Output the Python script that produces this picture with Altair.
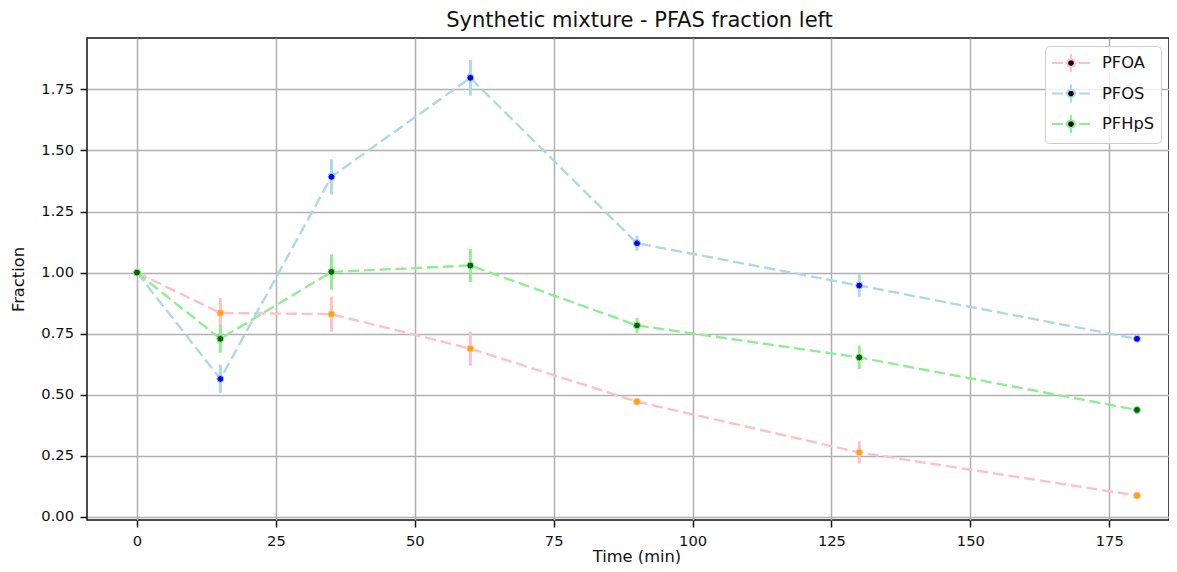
import math
import altair as alt
import pandas as pd

# ---- data ----
times = [0, 15, 35, 60, 90, 130, 180]
series_names = ["PFOA", "PFOS", "PFHpS"]
pfoa_vals = [1.000, 0.835, 0.830, 0.689, 0.472, 0.264, 0.088]
pfoa_errs = [0.000, 0.061, 0.072, 0.070, 0.015, 0.046, 0.011]
pfos_vals = [1.000, 0.565, 1.392, 1.797, 1.120, 0.947, 0.729]
pfos_errs = [0.000, 0.058, 0.072, 0.073, 0.030, 0.046, 0.012]
pfhps_vals = [1.000, 0.729, 1.003, 1.029, 0.784, 0.653, 0.438]
pfhps_errs = [0.000, 0.057, 0.072, 0.068, 0.031, 0.048, 0.012]
line_colors = ["#ffc0cb", "#add8e6", "#90ee90"]
marker_colors = ["#ffa500", "#0000ff", "#006400"]
x_ticks = [0, 25, 50, 75, 100, 125, 150, 175]
y_ticks = [0.0, 0.25, 0.5, 0.75, 1.0, 1.25, 1.5, 1.75]

rows = []
for name, vals, errs in zip(series_names,
                            [pfoa_vals, pfos_vals, pfhps_vals],
                            [pfoa_errs, pfos_errs, pfhps_errs]):
    for t, v, e in zip(times, vals, errs):
        rows.append({"series": name, "time": t, "value": v,
                     "lo": v - e, "hi": v + e})
df = pd.DataFrame(rows)

FONT = "DejaVu Sans"
TXT = "#111111"

x_scale = alt.Scale(domain=[-9, 185.76], nice=False, zero=False)
y_scale = alt.Scale(domain=[-0.0123, 1.960], nice=False, zero=False)
line_scale = alt.Scale(domain=series_names, range=line_colors)
marker_scale = alt.Scale(domain=series_names, range=marker_colors)

x_axis = alt.Axis(values=x_ticks, format="d", title="Time (min)", grid=True,
                  labelFlush=False, tickSize=7, labelPadding=18.5,
                  labelBaseline="alphabetic", titleX=549.5, titleY=41,
                  titleAlign="center", titleBaseline="alphabetic",
                  domain=False)
y_axis = alt.Axis(values=y_ticks, format=".2f", title="Fraction", grid=True,
                  tickSize=7, labelPadding=6.5, titleX=-69, titleY=241,
                  titleAngle=270, titleAlign="center", titleBaseline="middle",
                  domain=False)

X = alt.X("time:Q", scale=x_scale, axis=x_axis)
Y = alt.Y("value:Q", scale=y_scale, axis=y_axis)

# legend glyph: dashed line, error bar and a round marker (units of 10 px)
cx, r = 0.9, 0.38
ring = "".join(
    ("M" if k == 0 else "L")
    + f"{cx + r * math.cos(2 * math.pi * k / 16):.3f},"
    + f"{r * math.sin(2 * math.pi * k / 16):.3f}"
    for k in range(16)
) + "Z"
SYMBOL = ("M-1,0H0.1M0.35,0H0.52M1.28,0H1.45M1.7,0H2.8"
          "M0.9,-0.9V-0.38M0.9,0.38V0.9" + ring)

fill_legend = alt.Legend(title=None, orient="none", legendX=963, legendY=8)
stroke_legend = alt.Legend(title=None, orient="top-right", offset=8,
                           symbolType=SYMBOL, symbolSize=400,
                           symbolStrokeWidth=2, labelOffset=29)

lines = alt.Chart(df).mark_line(strokeDash=[11, 4.8], strokeWidth=2.4).encode(
    x=X, y=Y,
    color=alt.Color("series:N", scale=line_scale, legend=None),
)

errbars = alt.Chart(df).mark_rule(strokeWidth=3).encode(
    x=X, y=alt.Y("lo:Q", scale=y_scale), y2="hi:Q",
    color=alt.Color("series:N", scale=line_scale, legend=None),
)

points = alt.Chart(df).mark_point(filled=True, size=48, strokeWidth=1,
                                  opacity=1).encode(
    x=X, y=Y,
    fill=alt.Fill("series:N", scale=marker_scale, legend=fill_legend),
    stroke=alt.Stroke("series:N", scale=line_scale, legend=stroke_legend),
)

chart = alt.layer(lines, errbars, points).properties(
    width=1082, height=482,
    background="white",
    title=alt.TitleParams("Synthetic mixture - PFAS fraction left",
                          font=FONT, fontSize=21, fontWeight="normal",
                          color=TXT, anchor="middle", dx=11.5, dy=15,
                          offset=5.5, baseline="alphabetic"),
    autosize=alt.AutoSizeParams(type="none"),
    padding={"left": 79, "top": 30, "right": 0, "bottom": 44},
).configure_view(
    stroke=TXT, strokeWidth=1.5
).configure_axis(
    labelFont=FONT, labelFontSize=14.7, labelColor=TXT,
    titleFont=FONT, titleFontSize=16.3, titleFontWeight="normal",
    titleColor=TXT, gridColor="#b0b0b0", gridWidth=1.5,
    tickColor=TXT, tickWidth=1.5,
).configure_legend(
    symbolOpacity=1, labelFont=FONT, labelFontSize=16.3,
    labelColor=TXT, padding=6, rowPadding=4.5,
    fillColor="rgba(255,255,255,0.8)", strokeColor="#cccccc",
    cornerRadius=4,
)

chart.save("out.html", embed_options={"renderer": "svg", "actions": False})
